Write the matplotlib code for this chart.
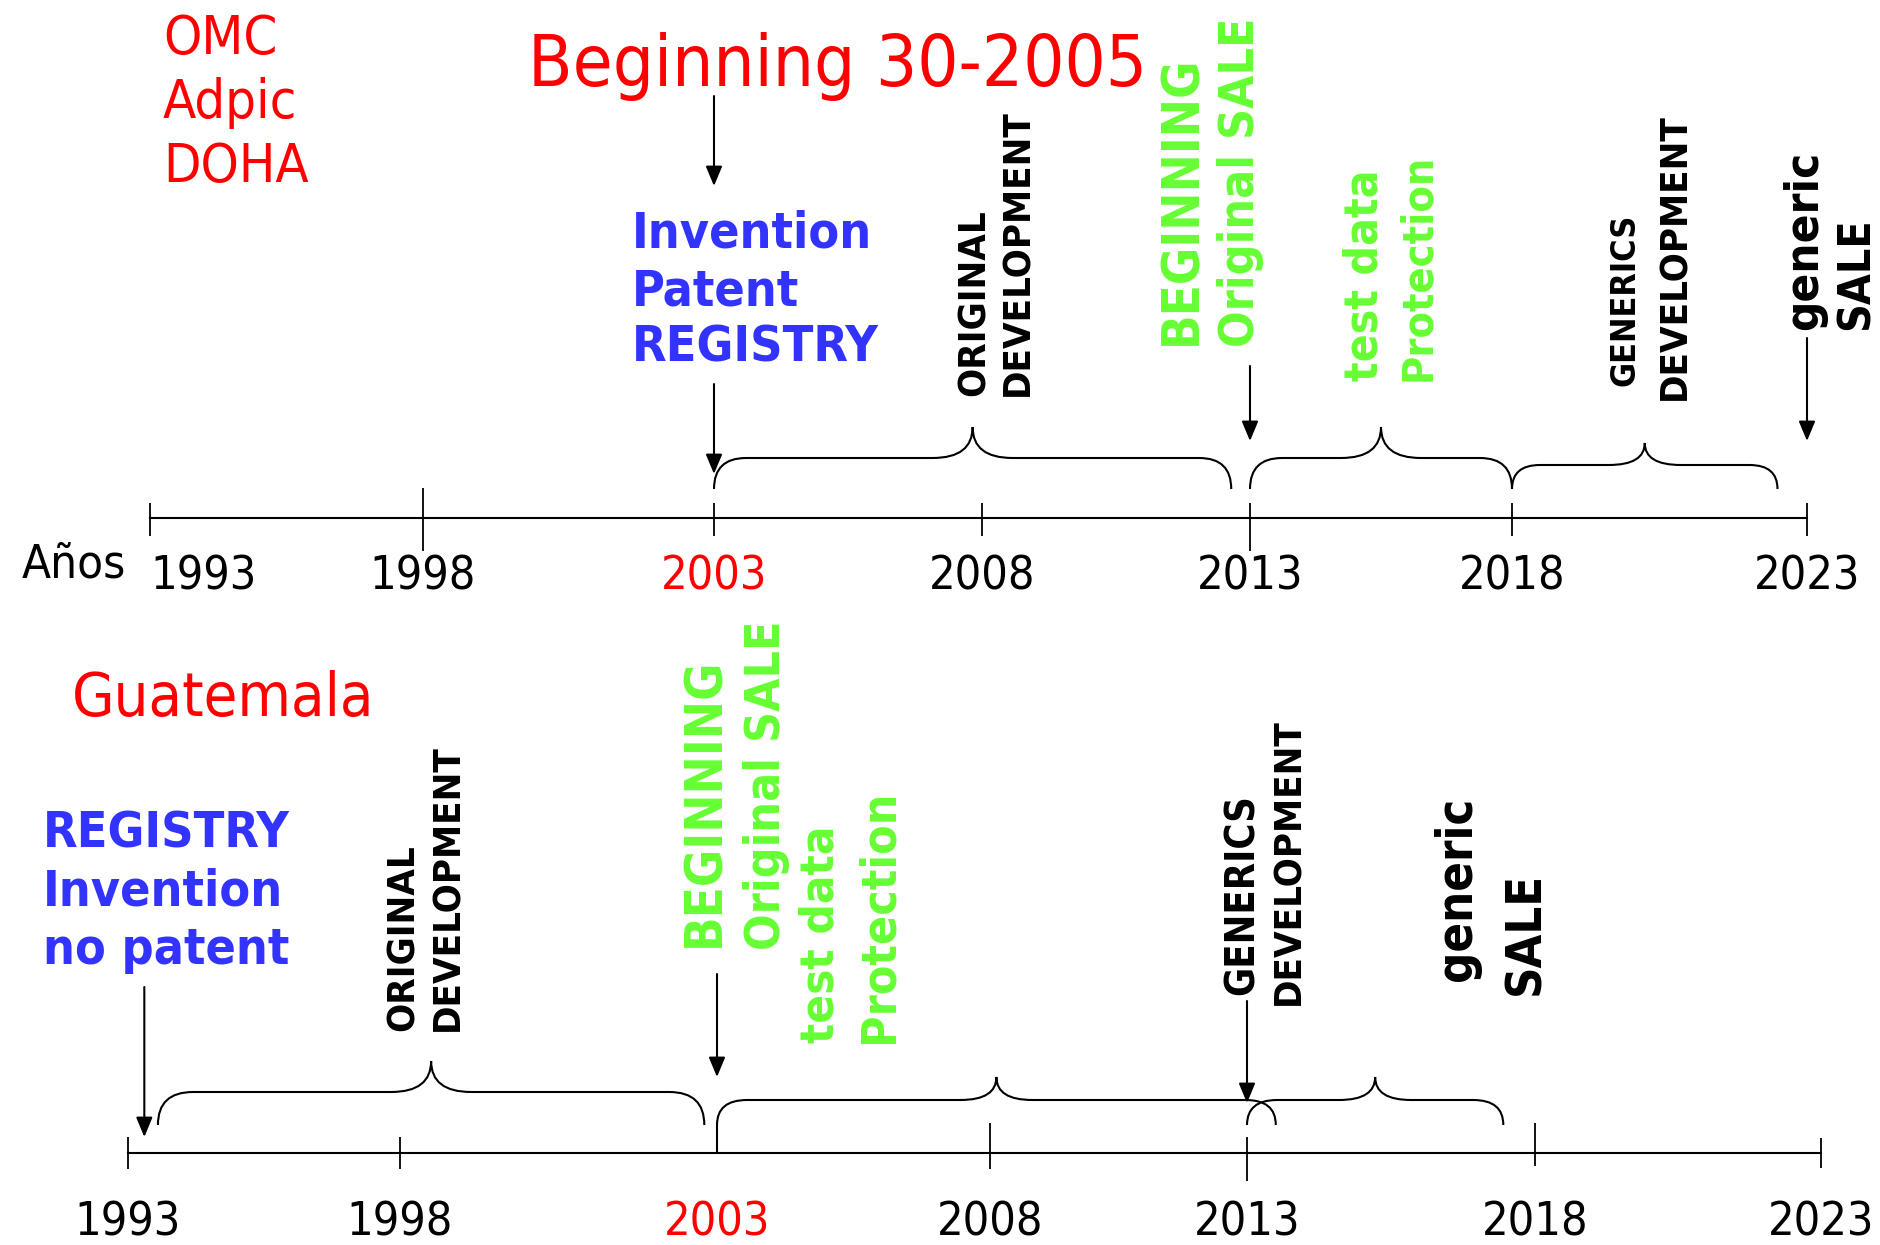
import numpy as np
import matplotlib
matplotlib.use('Agg')
import matplotlib.pyplot as plt
from matplotlib.path import Path
from matplotlib.patches import PathPatch

# ---- data ----
YEARS = [1993, 1998, 2003, 2008, 2013, 2018, 2023]
YEAR_LABELS = [str(y) for y in YEARS]
HIGHLIGHT = 2003

TOP_BRACES = [(2003, 2012.65), (2013, 2018), (2018, 2022.5)]
BOTTOM_BRACES = [(1993.55, 2002.8), (2003, 2013.5), (2013, 2017.45)]
TOP_ARROWS = [2003, 2003, 2013, 2023]
BOTTOM_ARROWS = [1993.3, 2003, 2013]

TOP_NOTE = ['OMC', 'Adpic', 'DOHA']
TOP_TITLE = 'Beginning 30-2005'
TOP_BLUE = ['Invention', 'Patent', 'REGISTRY']
BOTTOM_TITLE = 'Guatemala'
BOTTOM_BLUE = ['REGISTRY', 'Invention', 'no patent']
AXIS_NAME = 'Años'
TOP_LABELS = ['ORIGINAL', 'DEVELOPMENT', 'BEGINNING', 'Original SALE', 'test data',
              'Protection', 'GENERICS', 'DEVELOPMENT', 'generic', 'SALE']
BOTTOM_LABELS = ['ORIGINAL', 'DEVELOPMENT', 'BEGINNING', 'Original SALE', 'test data',
                 'Protection', 'GENERICS', 'DEVELOPMENT', 'generic', 'SALE']

# ---- layout (pixels) ----
W, H = 1880, 1245
RED, BLUE, GREEN, BLACK = '#ff0000', '#3333ff', '#66ff33', 'black'
TOP_TICK_PX = [150, 423, 714, 982, 1250, 1512, 1807]
BOT_TICK_PX = [128, 400, 717, 990, 1247, 1535, 1821]
TOP_AXIS_Y, BOT_AXIS_Y = 518, 1153
TOP_TICKS = [(15, 18), (30, 33), (15, 18), (15, 18), (15, 33), (15, 18), (15, 18)]
BOT_TICKS = [(16, 16), (16, 16), (0, 0), (30, 16), (16, 28), (30, 13), (15, 15)]

# Tahoma look-alike
plt.rcParams['font.family'] = 'DejaVu Sans'
plt.rcParams['font.stretch'] = 'condensed'

fig = plt.figure(figsize=(W / 100, H / 100), dpi=100)
canvas = fig.add_axes([0, 0, 1, 1])
canvas.set_xlim(0, W)
canvas.set_ylim(H, 0)
canvas.axis('off')


def timeline(tick_px):
    # year axis that follows the hand-drawn tick spacing
    s = (tick_px[-1] - tick_px[0]) / (YEARS[-1] - YEARS[0])
    yk = [YEARS[0] - 30] + YEARS + [YEARS[-1] + 30]
    pk = [tick_px[0] - 30 * s] + list(tick_px) + [tick_px[-1] + 30 * s]
    fwd = lambda v: np.interp(v, yk, pk)
    inv = lambda v: np.interp(v, pk, yk)
    ax = fig.add_axes([0, 0, 1, 1])
    ax.set_xscale('function', functions=(fwd, inv))
    ax.set_xlim(inv(0), inv(W))
    ax.set_ylim(H, 0)
    ax.axis('off')
    ax.patch.set_alpha(0)
    return ax, fwd, inv


def brace(ax, fwd, inv, x0, x1, base, mid, tip, r=32, rt=40):
    p0, p1 = fwd(x0), fwd(x1)
    pm = (p0 + p1) / 2
    pts = [(p0, base), (p0, mid), (p0 + r, mid), (pm - rt, mid), (pm, mid), (pm, tip),
           (pm, mid), (pm + rt, mid), (p1 - r, mid), (p1, mid), (p1, base)]
    codes = [Path.MOVETO, Path.CURVE3, Path.CURVE3, Path.LINETO, Path.CURVE3, Path.CURVE3,
             Path.CURVE3, Path.CURVE3, Path.LINETO, Path.CURVE3, Path.CURVE3]
    verts = [(float(inv(x)), y) for x, y in pts]
    ax.add_patch(PathPatch(Path(verts, codes), fill=False, lw=1.5, color=BLACK))


def arrow(ax, x, y0, y1):
    ax.annotate('', xy=(x, y1), xytext=(x, y0),
                arrowprops=dict(arrowstyle='-|>,head_length=0.6,head_width=0.25',
                                lw=1.5, color=BLACK, mutation_scale=20,
                                shrinkA=0, shrinkB=0))


def axis_line(ax, ypos, ticks, label_base, first_ha):
    ax.plot([YEARS[0], YEARS[-1]], [ypos, ypos], color=BLACK, lw=1.5)
    for yr, lab, (up, dn) in zip(YEARS, YEAR_LABELS, ticks):
        if up or dn:
            ax.vlines(yr, ypos - up, ypos + dn, color=BLACK, lw=1.3)
        ha = first_ha if yr == YEARS[0] else 'center'
        ax.text(yr, label_base, lab, ha=ha, va='baseline', fontsize=33.5,
                color=RED if yr == HIGHLIGHT else BLACK)


def lines(x, bases, words, size, color, weight='normal'):
    for b, w in zip(bases, words):
        canvas.text(x, b, w, ha='left', va='baseline', fontsize=size,
                    color=color, fontweight=weight)


def vlabels(words, layout):
    for w, (x, bot, size, color) in zip(words, layout):
        canvas.text(x, bot, w, rotation=90, ha='center', va='bottom',
                    fontsize=size, color=color, fontweight='bold')


# ---- top timeline ----
ax1, f1, i1 = timeline(TOP_TICK_PX)
axis_line(ax1, TOP_AXIS_Y, TOP_TICKS, 590, 'left')
brace(ax1, f1, i1, *TOP_BRACES[0], 489, 458, 427)
brace(ax1, f1, i1, *TOP_BRACES[1], 489, 458, 427)
brace(ax1, f1, i1, *TOP_BRACES[2], 489, 465, 443, r=28, rt=36)
for yr, (y0, y1) in zip(TOP_ARROWS, [(96, 186), (384, 474), (366, 441), (338, 441)]):
    arrow(ax1, yr, y0, y1)

lines(163, [54, 118, 182], TOP_NOTE, 39, RED)
lines(528, [86], [TOP_TITLE], 52, RED)
lines(632, [247, 305, 362], TOP_BLUE, 36, BLUE, 'bold')
lines(22, [577], [AXIS_NAME], 34, BLACK)
vlabels(TOP_LABELS, [(975, 396, 27.5, BLACK), (1018, 396, 27.5, BLACK),
                     (1182, 345, 36.5, GREEN), (1240, 347, 34.5, GREEN),
                     (1365, 381, 33, GREEN), (1418, 381, 31, GREEN),
                     (1625, 386, 24.5, BLACK), (1675, 400, 27.5, BLACK),
                     (1805, 330, 34, BLACK), (1856, 330, 32, BLACK)])

# ---- bottom timeline ----
ax2, f2, i2 = timeline(BOT_TICK_PX)
axis_line(ax2, BOT_AXIS_Y, BOT_TICKS, 1235, 'center')
brace(ax2, f2, i2, *BOTTOM_BRACES[0], 1125, 1092, 1061, r=35, rt=40)
ax2.vlines(BOTTOM_BRACES[1][0], 1125, BOT_AXIS_Y, color=BLACK, lw=1.5)
brace(ax2, f2, i2, *BOTTOM_BRACES[1], 1125, 1100, 1077, r=30, rt=36)
brace(ax2, f2, i2, *BOTTOM_BRACES[2], 1125, 1100, 1077, r=30, rt=36)
for yr, (y0, y1) in zip(BOTTOM_ARROWS, [(987, 1137), (974, 1077), (1001, 1103)]):
    arrow(ax2, yr, y0, y1)

lines(72, [716], [BOTTOM_TITLE], 44, RED)
lines(43, [848, 906, 964], BOTTOM_BLUE, 36, BLUE, 'bold')
vlabels(BOTTOM_LABELS, [(404, 1031, 27.5, BLACK), (448, 1031, 27.5, BLACK),
                        (705, 947, 36.5, GREEN), (767, 950, 34.5, GREEN),
                        (821, 1043, 34, GREEN), (879, 1043, 34.5, GREEN),
                        (1243, 995, 28.5, BLACK), (1289, 1005, 27.5, BLACK),
                        (1457, 981, 35, BLACK), (1525, 995, 35, BLACK)])

fig.savefig('out.png', dpi=100)
